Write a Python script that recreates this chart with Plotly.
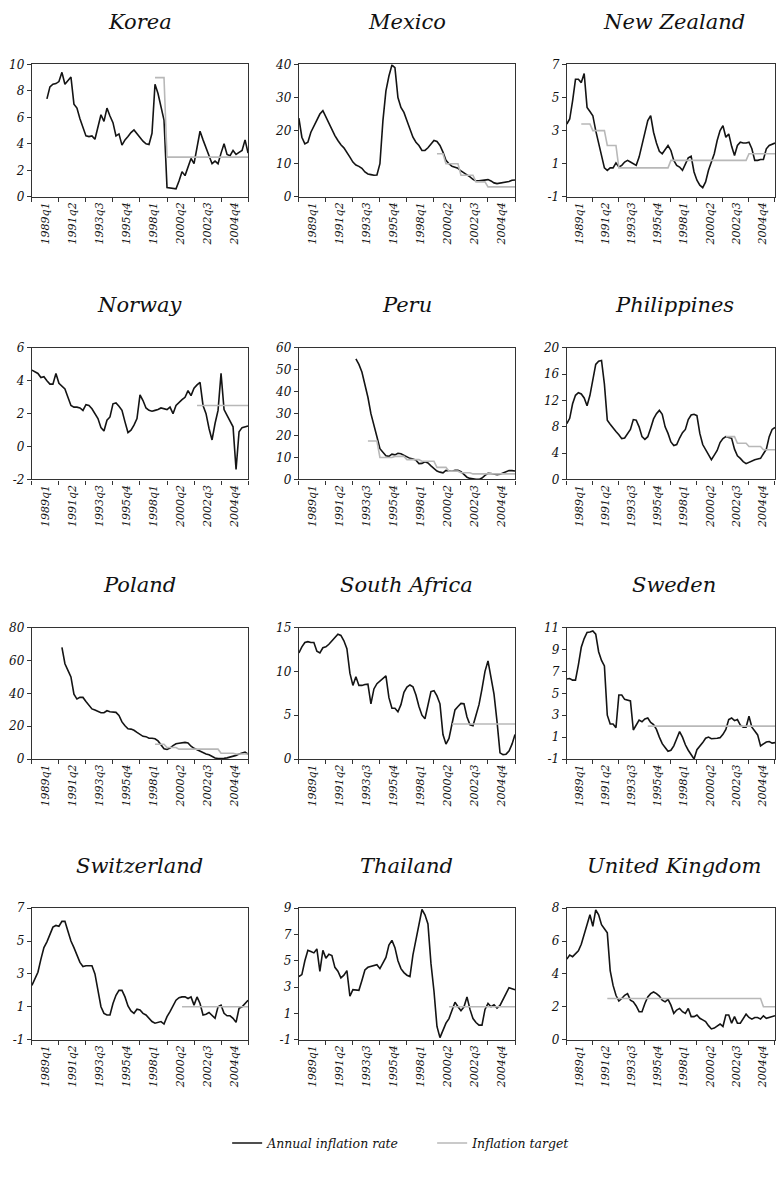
import plotly.graph_objects as go

# Horizontal axis: quarter index 0..72; tick marks every 9 quarters,
# labels sit in the middle of each 9-quarter block.
tick_labels = ["1989q1", "1991q2", "1993q3", "1995q4",
               "1998q1", "2000q2", "2002q3", "2004q4"]

# ---- Korea ----
korea_start = 5
korea_rate = [7.4, 8.3, 8.5, 8.55, 8.7,
              9.4, 8.5, 8.8, 9.05, 7.0, 6.7, 5.9, 5.3, 4.6, 4.55,
              4.6, 4.35, 5.3, 6.2, 5.7, 6.7, 6.1, 5.6, 4.6, 4.75,
              3.9, 4.3, 4.55, 4.85, 5.05, 4.75, 4.5, 4.2, 4.0, 3.95,
              4.8, 8.5, 7.8, 6.8, 5.8, 0.7, 0.65, 0.6, 0.6, 1.2,
              1.9, 1.6, 2.2, 2.9, 2.5, 3.7, 4.95, 4.3, 3.7, 3.0,
              2.5, 2.7, 2.5, 3.3, 4.0, 3.2, 3.1, 3.5, 3.2, 3.35,
              3.5, 4.3, 3.3]
korea_tstart = 41
korea_target = [9.0, 9.0, 9.0, 9.0,
                3.0, 3.0, 3.0, 3.0, 3.0, 3.0, 3.0, 3.0, 3.0, 3.0,
                3.0, 3.0, 3.0, 3.0, 3.0, 3.0, 3.0, 3.0, 3.0, 3.0,
                3.0, 3.0, 3.0, 3.0, 3.0, 3.0, 3.0, 3.0]
korea_yticks = [0, 2, 4, 6, 8, 10]

# ---- Mexico ----
mexico_start = 0
mexico_rate = [23.8, 18, 16, 16.5, 19.5, 21.5, 23, 25, 26, 24,
               22, 20, 18.5, 17, 15.7, 14.8, 13.5, 12, 10.5, 9.6,
               9.2, 8.6, 7.5, 6.9, 6.7, 6.5, 6.6, 10, 23, 32,
               36.5, 39.8, 39, 30, 27, 25.5, 23, 20.5, 18, 16.5,
               15.5, 14, 14, 14.8, 16, 17, 16.7, 15.5, 13.5, 11,
               10, 9.2, 8.9, 8.6, 7.8, 7.2, 6.8, 6.0, 5.3, 4.8,
               4.8, 5.0, 5.2, 5.2, 4.8, 4.2, 4.0, 4.1, 4.4, 4.3,
               4.6, 5.0, 5.1]
mexico_tstart = 46
mexico_target = [13, 13, 13,
                 10, 10, 10, 10, 10,
                 6.5, 6.5, 6.5, 6.5, 6.5,
                 4.5, 4.5, 4.5, 4.5,
                 3, 3, 3, 3, 3, 3, 3, 3, 3, 3]
mexico_yticks = [0, 10, 20, 30, 40]

# ---- New Zealand ----
nz_start = 0
nz_rate = [3.4, 3.7, 4.8, 6.1, 6.1, 5.9, 6.45, 4.4, 4.15, 3.9,
           3.0, 2.2, 1.6, 0.75, 0.6, 0.75, 0.75, 1.05, 0.8, 0.9,
           1.1, 1.2, 1.1, 1.0, 0.9, 1.4, 2.2, 3.0, 3.6, 3.9,
           2.9, 2.25, 1.75, 1.6, 1.85, 2.1, 1.8, 1.2, 0.9, 0.8,
           0.6, 1.0, 1.35, 1.45, 0.5, 0.0, -0.3, -0.45, -0.1, 0.6,
           1.1, 1.6, 2.4, 3.0, 3.3, 2.6, 2.8, 2.05, 1.5, 2.1,
           2.3, 2.25, 2.25, 2.3, 1.9, 1.2, 1.2, 1.25, 1.25, 1.9,
           2.1, 2.2, 2.25]
nz_tstart = 5
nz_target = [3.4, 3.4, 3.4, 3.4,
             3.0, 3.0, 3.0, 3.0, 3.0,
             2.1, 2.1, 2.1, 2.1,
             0.75, 0.75, 0.75, 0.75, 0.75, 0.75, 0.75, 0.75, 0.75,
             0.75, 0.75, 0.75, 0.75, 0.75, 0.75, 0.75, 0.75, 0.75,
             1.2, 1.2, 1.2, 1.2, 1.2, 1.2, 1.2, 1.2, 1.2, 1.2,
             1.2, 1.2, 1.2, 1.2, 1.2, 1.2, 1.2, 1.2, 1.2, 1.2,
             1.2, 1.2, 1.2, 1.2, 1.2, 1.2, 1.2,
             1.6, 1.6, 1.6, 1.6, 1.6, 1.6, 1.6, 1.6, 1.6, 1.6]
nz_yticks = [-1, 1, 3, 5, 7]

# ---- Norway ----
norway_start = 0
norway_rate = [4.65, 4.55, 4.45, 4.2, 4.25, 4.0, 3.8, 3.8, 4.45, 3.85,
               3.7, 3.5, 3.0, 2.5, 2.4, 2.4, 2.35, 2.2, 2.55, 2.5,
               2.3, 2.0, 1.7, 1.15, 0.95, 1.6, 1.8, 2.6, 2.65, 2.45,
               2.2, 1.5, 0.85, 1.0, 1.3, 1.7, 3.15, 2.8, 2.35, 2.2,
               2.15, 2.2, 2.25, 2.35, 2.3, 2.25, 2.4, 2.0, 2.5, 2.7,
               2.85, 3.0, 3.4, 3.1, 3.55, 3.75, 3.9, 2.5, 2.0, 1.1,
               0.4, 1.4, 2.2, 4.45, 2.25, 1.9, 1.5, 1.2, -1.4, 0.9,
               1.15, 1.2, 1.25]
norway_tstart = 55
norway_target = [2.5, 2.5, 2.5, 2.5, 2.5, 2.5, 2.5, 2.5, 2.5,
                 2.5, 2.5, 2.5, 2.5, 2.5, 2.5, 2.5, 2.5, 2.5]
norway_yticks = [-2, 0, 2, 4, 6]

# ---- Peru ----
peru_start = 19
peru_rate = [55, 52.5, 49, 43.5, 37.5, 30, 24, 19.5, 14, 12.2, 10.8,
             10.5, 11.5, 11.2, 11.9, 11.7, 11.0, 10.0, 9.6, 9.3, 8.8,
             7.2, 7.3, 8.0, 7.5, 6.2, 4.8, 3.8, 3.3, 3.0, 4.1,
             3.8, 3.75, 4.1, 4.1, 3.5, 2.2, 1.0, 0.45, 0.05, 0.0,
             0.0, 0.6, 1.8, 2.8, 2.7, 2.4, 2.1, 2.4, 3.0, 3.3,
             4.0, 4.0, 3.8]
peru_tstart = 23
peru_target = [17.5, 17.5, 17.5, 17.5,
               10, 10, 10, 10, 10,
               10.5, 10.5, 10.5, 10.5,
               9, 9, 9, 9, 9,
               8.25, 8.25, 8.25, 8.25, 8.25,
               5.5, 5.5, 5.5, 5.5,
               3.75, 3.75, 3.75, 3.75,
               3, 3, 3, 3,
               2.5, 2.5, 2.5, 2.5, 2.5, 2.5, 2.5, 2.5, 2.5, 2.5,
               2.5, 2.5, 2.5, 2.5, 2.5]
peru_yticks = [0, 10, 20, 30, 40, 50, 60]

# ---- Philippines ----
phil_start = 0
phil_rate = [8.5, 9.3, 11.5, 12.8, 13.2, 13.0, 12.4, 11.2, 12.8, 15.5,
             17.5, 18.0, 18.1, 14.5, 9.0, 8.4, 7.8, 7.3, 6.8, 6.2,
             6.3, 6.9, 7.6, 9.1, 9.0, 8.0, 6.5, 6.1, 6.5, 7.8,
             9.2, 10.0, 10.5, 9.9, 8.0, 7.0, 5.7, 5.15, 5.3, 6.3,
             7.1, 7.6, 9.1, 9.8, 9.9, 9.7, 7.0, 5.3, 4.5, 3.7,
             3.0, 3.7, 4.4, 5.6, 6.2, 6.5, 6.35, 6.25, 4.6, 3.6,
             3.2, 2.7, 2.4, 2.6, 2.9, 3.0, 3.1, 3.2, 3.9, 4.6,
             6.5, 7.6, 7.9]
phil_tstart = 55
phil_target = [6.5, 6.5, 6.5, 6.5,
               5.5, 5.5, 5.5, 5.5,
               5.0, 5.0, 5.0, 5.0, 5.0,
               4.5, 4.5, 4.5, 4.5, 4.5]
phil_yticks = [0, 4, 8, 12, 16, 20]

# ---- Poland ----
poland_start = 10
poland_rate = [68, 58, 54, 50, 39.5, 36.5, 37.5, 37.5, 35, 32.5,
               30.5, 29.8, 29, 28.2, 28.2, 29.4, 28.8, 28.6, 28.4, 26.5,
               22.6, 20.2, 18.4, 18.2, 17.5, 16.2, 14.8, 13.8, 13.6, 12.6,
               12.6, 12.3, 11, 8.6, 6.2, 5.8, 6.6, 8.2, 9.3, 9.6,
               9.8, 10.1, 9.8, 7.8, 6.5, 5.5, 4.5, 3.8, 3.0, 2.6,
               1.6, 0.6, 0.3, 0.2, 0.4, 0.7, 1.1, 1.5, 2.2, 3.0,
               3.5, 4.2, 3.0]
poland_tstart = 41
poland_target = [9, 9, 9, 9,
                 7, 7, 7, 7,
                 6, 6, 6, 6, 6, 6, 6, 6, 6, 6, 6, 6, 6, 6,
                 3.5, 3.5, 3.5, 3.5, 3.5,
                 3, 3, 3, 3, 3]
poland_yticks = [0, 20, 40, 60, 80]

# ---- South Africa ----
sa_start = 0
sa_rate = [12.1, 12.8, 13.3, 13.4, 13.3, 13.3, 12.3, 12.1, 12.7, 12.8,
           13.1, 13.5, 13.9, 14.25, 14.1, 13.5, 12.6, 9.8, 8.4, 9.4,
           8.4, 8.4, 8.5, 8.55, 6.3, 8.0, 8.6, 8.9, 9.2, 9.5,
           7.0, 5.8, 5.8, 5.4, 6.2, 7.6, 8.2, 8.45, 8.25, 7.3,
           6.0, 5.0, 4.6, 6.3, 7.7, 7.8, 7.2, 6.3, 2.8, 1.7,
           2.35, 4.0, 5.6, 6.0, 6.35, 6.3, 4.8, 3.9, 3.8, 5.0,
           6.2, 8.0, 10.0, 11.2, 9.3, 7.4, 4.3, 0.7, 0.5, 0.55,
           0.9, 1.7, 2.8]
sa_tstart = 51
sa_target = [4, 4, 4, 4, 4, 4, 4, 4, 4, 4, 4,
             4, 4, 4, 4, 4, 4, 4, 4, 4, 4, 4]
sa_yticks = [0, 5, 10, 15]

# ---- Sweden ----
sweden_start = 0
sweden_rate = [6.3, 6.35, 6.2, 6.2, 7.6, 9.2, 10.0, 10.55, 10.6, 10.7,
               10.4, 8.8, 8.0, 7.5, 3.0, 2.2, 2.2, 1.85, 4.85, 4.85,
               4.45, 4.35, 4.3, 1.65, 2.05, 2.55, 2.4, 2.65, 2.75, 2.35,
               2.15, 1.7, 1.0, 0.4, 0.05, -0.3, -0.2, 0.2, 0.85, 1.5,
               1.0, 0.3, -0.2, -0.6, -1.0, -0.15, 0.15, 0.5, 0.9, 1.0,
               0.85, 0.85, 0.9, 0.95, 1.25, 1.7, 2.6, 2.75, 2.5, 2.6,
               2.1, 1.9, 1.9, 2.9, 1.9, 1.55, 1.2, 0.2, 0.4, 0.55,
               0.6, 0.45, 0.5]
sweden_tstart = 28
sweden_target = [2, 2, 2, 2, 2, 2, 2, 2, 2, 2, 2, 2, 2, 2, 2,
                 2, 2, 2, 2, 2, 2, 2, 2, 2, 2, 2, 2, 2, 2, 2,
                 2, 2, 2, 2, 2, 2, 2, 2, 2, 2, 2, 2, 2, 2, 2]
sweden_yticks = [-1, 1, 3, 5, 7, 9, 11]

# ---- Switzerland ----
swiss_start = 0
swiss_rate = [2.3, 2.7, 3.1, 3.9, 4.6, 4.95, 5.4, 5.85, 5.95, 5.9,
              6.2, 6.2, 5.6, 5.0, 4.6, 4.1, 3.7, 3.45, 3.5, 3.5,
              3.5, 3.0, 2.0, 1.0, 0.6, 0.5, 0.5, 1.2, 1.7, 2.0,
              2.0, 1.6, 1.05, 0.75, 0.6, 0.85, 0.8, 0.6, 0.5, 0.3,
              0.1, 0.0, 0.05, 0.1, -0.05, 0.4, 0.7, 1.05, 1.4, 1.55,
              1.6, 1.6, 1.5, 1.6, 1.1, 1.6, 1.2, 0.5, 0.55, 0.65,
              0.5, 0.3, 1.0, 1.1, 0.6, 0.45, 0.45, 0.3, 0.05, 0.9,
              1.0, 1.2, 1.4]
swiss_tstart = 50
swiss_target = [1, 1, 1, 1, 1, 1, 1, 1, 1, 1, 1, 1,
                1, 1, 1, 1, 1, 1, 1, 1, 1, 1, 1]
swiss_yticks = [-1, 1, 3, 5, 7]

# ---- Thailand ----
thai_start = 0
thai_rate = [3.8, 3.95, 5.0, 5.8, 5.7, 5.6, 5.9, 4.2, 5.8, 5.2,
             5.5, 5.4, 4.5, 4.2, 3.7, 3.9, 4.25, 2.3, 2.8, 2.75,
             2.75, 3.5, 4.3, 4.5, 4.55, 4.65, 4.7, 4.4, 4.8, 5.25,
             6.2, 6.55, 6.0, 5.0, 4.4, 4.1, 3.9, 3.8, 5.45, 6.65,
             7.75, 8.9, 8.5, 7.8, 4.8, 2.7, 0.0, -0.85, -0.3, 0.25,
             0.6, 1.25, 1.85, 1.5, 1.2, 1.5, 2.25, 1.3, 0.6, 0.3,
             0.1, 0.1, 1.3, 1.75, 1.5, 1.65, 1.4, 1.6, 2.1, 2.5,
             2.95, 2.85, 2.8]
thai_tstart = 50
thai_target = [1.5, 1.5, 1.5, 1.5, 1.5, 1.5, 1.5, 1.5, 1.5, 1.5, 1.5, 1.5,
               1.5, 1.5, 1.5, 1.5, 1.5, 1.5, 1.5, 1.5, 1.5, 1.5, 1.5]
thai_yticks = [-1, 1, 3, 5, 7, 9]

# ---- United Kingdom ----
uk_start = 0
uk_rate = [4.9, 5.15, 5.05, 5.2, 5.4, 5.8, 6.45, 7.1, 7.6, 6.9,
           7.9, 7.6, 7.0, 6.75, 6.5, 4.2, 3.3, 2.7, 2.35, 2.5,
           2.7, 2.8, 2.4, 2.3, 2.05, 1.7, 1.7, 2.2, 2.6, 2.8,
           2.9, 2.8, 2.65, 2.4, 2.3, 2.45, 2.1, 1.6, 1.8, 1.9,
           1.7, 1.6, 1.9, 1.4, 1.4, 1.5, 1.3, 1.2, 1.1, 0.85,
           0.65, 0.7, 0.85, 0.95, 0.8, 1.5, 1.5, 1.0, 1.4, 1.0,
           1.0, 1.3, 1.55, 1.35, 1.25, 1.35, 1.35, 1.25, 1.45, 1.3,
           1.35, 1.4, 1.45]
uk_tstart = 14
uk_target = [2.5, 2.5, 2.5, 2.5, 2.5, 2.5, 2.5, 2.5, 2.5, 2.5,
             2.5, 2.5, 2.5, 2.5, 2.5, 2.5, 2.5, 2.5, 2.5, 2.5,
             2.5, 2.5, 2.5, 2.5, 2.5, 2.5, 2.5, 2.5, 2.5, 2.5,
             2.5, 2.5, 2.5, 2.5, 2.5, 2.5, 2.5, 2.5, 2.5, 2.5,
             2.5, 2.5, 2.5, 2.5, 2.5, 2.5, 2.5, 2.5, 2.5, 2.5,
             2.5, 2.5, 2.5, 2.5,
             2.0, 2.0, 2.0, 2.0, 2.0]
uk_yticks = [0, 2, 4, 6, 8]

panels = [
    ("Korea", korea_start, korea_rate, korea_tstart, korea_target, korea_yticks),
    ("Mexico", mexico_start, mexico_rate, mexico_tstart, mexico_target, mexico_yticks),
    ("New Zealand", nz_start, nz_rate, nz_tstart, nz_target, nz_yticks),
    ("Norway", norway_start, norway_rate, norway_tstart, norway_target, norway_yticks),
    ("Peru", peru_start, peru_rate, peru_tstart, peru_target, peru_yticks),
    ("Philippines", phil_start, phil_rate, phil_tstart, phil_target, phil_yticks),
    ("Poland", poland_start, poland_rate, poland_tstart, poland_target, poland_yticks),
    ("South Africa", sa_start, sa_rate, sa_tstart, sa_target, sa_yticks),
    ("Sweden", sweden_start, sweden_rate, sweden_tstart, sweden_target, sweden_yticks),
    ("Switzerland", swiss_start, swiss_rate, swiss_tstart, swiss_target, swiss_yticks),
    ("Thailand", thai_start, thai_rate, thai_tstart, thai_target, thai_yticks),
    ("United Kingdom", uk_start, uk_rate, uk_tstart, uk_target, uk_yticks),
]

# The page body keeps its default 8px margin, so the figure is 16px smaller
# than the window and every page position is shifted by PAD.
PAD = 8
W, H = 784 - 2 * PAD, 1188 - 2 * PAD
COL_X = [(30, 247), (298, 515), (567, 783)]               # page px
ROW_Y = [(58, 192), (345, 478), (628, 761), (912, 1045)]  # page px
N_Q = 72
FONT = "DejaVu Serif"
AXC = "#333333"
BLACK = "#141414"
GREY = "#b8b8b8"


def px_x(p):
    return (p - PAD) / W


def px_y(p):
    return 1 - (p - PAD) / H


fig = go.Figure()
layout = {}
annotations = []

for i, (name, s, rate, ts, tgt, yt) in enumerate(panels):
    n = i + 1
    sfx = "" if n == 1 else str(n)
    row, col = divmod(i, 3)
    x0, x1 = COL_X[col]
    top, bot = ROW_Y[row]

    fig.add_trace(go.Scatter(
        x=list(range(s, s + len(rate))), y=rate, mode="lines",
        line=dict(color=BLACK, width=1.6),
        name="Annual inflation rate", legendrank=1,
        showlegend=(n == 1), xaxis="x" + sfx, yaxis="y" + sfx,
    ))
    fig.add_trace(go.Scatter(
        x=list(range(ts, ts + len(tgt))), y=tgt, mode="lines",
        line=dict(color=GREY, width=1.6),
        name="Inflation target", legendrank=2,
        showlegend=(n == 1), xaxis="x" + sfx, yaxis="y" + sfx,
    ))

    layout["xaxis" + sfx] = dict(
        domain=[px_x(x0), min(px_x(x1), 1.0)], anchor="y" + sfx, range=[0, N_Q],
        tickmode="array", tickvals=[4.5 + 9 * k for k in range(len(tick_labels))],
        ticktext=tick_labels, tickangle=-90, ticks="",
        tickfont=dict(family=FONT, size=11, style="italic", color="#111"),
        minor=dict(tick0=0, dtick=9, ticks="outside", ticklen=4,
                   tickcolor=AXC, tickwidth=1, showgrid=False),
        showline=True, mirror=True, linecolor=AXC, linewidth=1.3,
        showgrid=False, zeroline=False, fixedrange=True,
    )
    layout["yaxis" + sfx] = dict(
        domain=[px_y(bot), px_y(top)], anchor="x" + sfx,
        range=[yt[0], yt[-1]], tickmode="array", tickvals=yt,
        ticktext=[str(v) for v in yt], ticks="outside", ticklen=4,
        tickcolor=AXC, tickwidth=1,
        tickfont=dict(family=FONT, size=12, style="italic", color="#111"),
        showline=True, mirror=True, linecolor=AXC, linewidth=1.3,
        showgrid=False, zeroline=False, fixedrange=True,
    )
    annotations.append(dict(
        text=name, xref="paper", yref="paper",
        x=px_x((x0 + x1) / 2), y=px_y(top - 43),
        xanchor="center", yanchor="middle", showarrow=False,
        font=dict(family=FONT, size=21, style="italic", color="#111"),
    ))

fig.update_layout(
    **layout,
    annotations=annotations,
    width=W, height=H,
    margin=dict(l=0, r=0, t=0, b=0),
    paper_bgcolor="white", plot_bgcolor="white",
    showlegend=True,
    legend=dict(orientation="h", x=px_x(226), y=px_y(1150),
                xanchor="left", yanchor="middle",
                entrywidth=160, entrywidthmode="pixels",
                font=dict(family=FONT, size=12.5, style="italic", color="#111"),
                bgcolor="rgba(0,0,0,0)"),
)

fig.write_html("out.html", config={"displayModeBar": False})
